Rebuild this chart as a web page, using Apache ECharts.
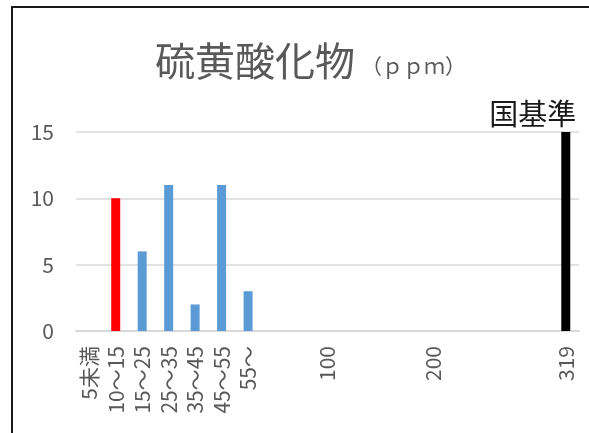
<!DOCTYPE html>
<html>
<head>
<meta charset="utf-8">
<script src="https://cdn.jsdelivr.net/npm/echarts@6/dist/echarts.min.js"></script>
<style>
  html, body { margin: 0; padding: 0; background: #fff; }
  #main { width: 589px; height: 433px; }
</style>
</head>
<body>
<div id="main"></div>
<script>
var categories = ['5未満', '10～15', '15～25', '25～35', '35～45', '45～55', '55～',
	'', '', '100', '', '', '', '200', '', '', '', '', '319'];
var values = [0, 10, 6, 11, 2, 11, 3, null, null, null, null, null, null, null, null, null, null, null, 15];
var yTicks = [0, 5, 10, 15];
var standardLabel = '国基準';

var font = '"Noto Sans CJK JP", "Noto Sans", sans-serif';
var lastIndex = categories.length - 1;

var myChart = echarts.init(document.getElementById('main'));
var option = {
	animation: false,
	title: {
		text: '{a|硫黄酸化物}{b|（ｐｐｍ）}',
		left: 150,
		top: 36,
		textStyle: {
			fontWeight: 'normal',
			rich: {
				a: { fontSize: 40, fontWeight: 'normal', color: '#595959', fontFamily: font },
				b: { fontSize: 21, fontWeight: 'normal', color: '#595959', fontFamily: font, padding: [10, 0, 0, 6] }
			}
		}
	},
	graphic: [{
		type: 'rect',
		shape: { x: 12, y: 7, width: 700, height: 600 },
		style: { fill: null, stroke: '#1a1a1a', lineWidth: 2 }
	}],
	grid: {
		left: 76,
		right: 10,
		top: 132,
		bottom: 102
	},
	xAxis: {
		type: 'category',
		data: categories,
		axisLine: { lineStyle: { color: '#d9d9d9', width: 2 } },
		axisTick: { show: false },
		axisLabel: {
			interval: 0,
			rotate: 90,
			margin: 15,
			color: '#595959',
			fontSize: 21,
			fontFamily: font
		}
	},
	yAxis: {
		type: 'value',
		min: yTicks[0],
		max: yTicks[yTicks.length - 1],
		interval: 5,
		axisLine: { show: false },
		axisTick: { show: false },
		splitLine: { lineStyle: { color: '#d9d9d9', width: 1.5 } },
		axisLabel: {
			margin: 22,
			color: '#595959',
			fontSize: 21,
			fontFamily: font
		}
	},
	series: [{
		type: 'bar',
		data: values,
		barWidth: 9,
		itemStyle: {
			color: function(p) {
				if (p.dataIndex === 1) return '#ff0000';
				if (p.dataIndex === lastIndex) return '#000000';
				return '#5b9bd5';
			}
		},
		label: {
			show: true,
			position: 'top',
			distance: 4,
			offset: [-33, 0],
			fontSize: 29,
			color: '#1a1a1a',
			fontFamily: font,
			formatter: function(p) {
				return p.dataIndex === lastIndex ? standardLabel : '';
			}
		}
	}]
};
myChart.setOption(option);
</script>
</body>
</html>
